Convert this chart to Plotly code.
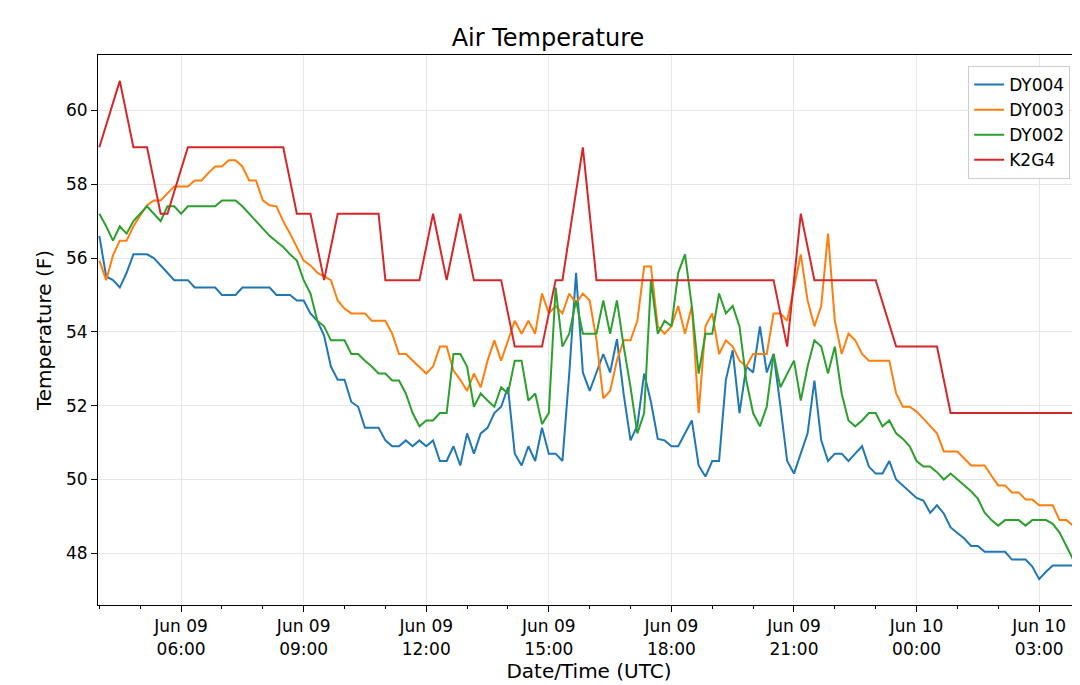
import pandas as pd
import plotly.graph_objects as go

# 10-minute observations, Jun 09 04:00 UTC -> Jun 10 04:00 UTC
times = pd.date_range("2019-06-09 04:00", "2019-06-10 04:00", freq="10min")

dy004 = [56.6, 55.5, 55.4, 55.2, 55.6, 56.1, 56.1, 56.1, 56.0, 55.8,
         55.6, 55.4, 55.4, 55.4, 55.2, 55.2, 55.2, 55.2, 55.0, 55.0,
         55.0, 55.2, 55.2, 55.2, 55.2, 55.2, 55.0, 55.0, 55.0, 54.85,
         54.85, 54.5, 54.3, 53.9, 53.06, 52.7, 52.7, 52.1, 51.97, 51.4,
         51.4, 51.4, 51.06, 50.9, 50.9, 51.06, 50.9, 51.06, 50.9, 51.06,
         50.5, 50.5, 50.9, 50.38, 51.25, 50.7, 51.25, 51.4, 51.8, 51.97,
         52.5, 50.7, 50.38, 50.9, 50.5, 51.4, 50.7, 50.7, 50.5, 52.87,
         55.6, 52.9, 52.4, 52.9, 53.4, 52.9, 53.8, 52.3, 51.06, 51.46,
         52.87, 52.1, 51.1, 51.06, 50.9, 50.9, 51.25, 51.6, 50.38, 50.08,
         50.5, 50.5, 52.7, 53.5, 51.8, 53.06, 52.9, 54.15, 52.9, 53.4,
         52.0, 50.5, 50.16, 50.7, 51.25, 52.68, 51.06, 50.5, 50.7, 50.7,
         50.5, 50.7, 50.9, 50.35, 50.16, 50.16, 50.5, 50.0, 49.83, 49.67,
         49.5, 49.43, 49.1, 49.3, 49.08, 48.7, 48.55, 48.4, 48.2, 48.2,
         48.04, 48.04, 48.04, 48.04, 47.83, 47.83, 47.83, 47.64, 47.3, 47.5,
         47.67, 47.67, 47.67, 47.67, 47.67]

dy003 = [55.93, 55.4, 56.07, 56.47, 56.47, 56.86, 57.15, 57.43, 57.56, 57.56,
         57.75, 57.94, 57.94, 57.94, 58.1, 58.1, 58.3, 58.48, 58.48, 58.65,
         58.65, 58.48, 58.1, 58.1, 57.56, 57.43, 57.4, 57.0, 56.66, 56.3,
         55.93, 55.8, 55.6, 55.5, 55.4, 54.85, 54.63, 54.5, 54.5, 54.5,
         54.3, 54.3, 54.3, 53.95, 53.4, 53.4, 53.22, 53.06, 52.87, 53.06,
         53.6, 53.6, 52.95, 52.7, 52.4, 52.87, 52.5, 53.22, 53.77, 53.22,
         53.77, 54.3, 53.95, 54.3, 53.95, 55.04, 54.5, 54.7, 54.5, 55.04,
         54.77, 55.04, 54.85, 53.77, 52.2, 52.4, 53.22, 53.77, 53.77, 54.3,
         55.77, 55.77, 54.15, 53.95, 54.15, 54.7, 53.95, 54.7, 51.8, 54.15,
         54.5, 53.4, 53.77, 53.6, 53.22, 53.06, 53.4, 53.4, 53.4, 54.5,
         54.5, 54.3, 55.2, 56.1, 54.85, 54.15, 54.7, 56.66, 54.3, 53.4,
         53.95, 53.77, 53.4, 53.22, 53.22, 53.22, 53.22, 52.33, 51.97, 51.97,
         51.84, 51.65, 51.46, 51.25, 50.76, 50.76, 50.76, 50.57, 50.38, 50.38,
         50.38, 50.1, 49.84, 49.84, 49.65, 49.65, 49.46, 49.46, 49.3, 49.3,
         49.3, 48.9, 48.9, 48.75, 48.37]

dy002 = [57.2, 56.86, 56.47, 56.86, 56.66, 57.0, 57.2, 57.4, 57.2, 57.0,
         57.4, 57.4, 57.2, 57.4, 57.4, 57.4, 57.4, 57.4, 57.56, 57.56,
         57.56, 57.4, 57.2, 57.0, 56.8, 56.6, 56.45, 56.3, 56.1, 55.93,
         55.4, 55.04, 54.3, 54.15, 53.77, 53.77, 53.77, 53.4, 53.4, 53.22,
         53.06, 52.87, 52.87, 52.68, 52.68, 52.33, 51.8, 51.44, 51.6, 51.6,
         51.8, 51.8, 53.4, 53.4, 53.06, 51.97, 52.33, 52.14, 51.97, 52.5,
         52.33, 53.22, 53.22, 52.14, 52.33, 51.5, 51.8, 55.2, 53.6, 53.95,
         54.85, 53.95, 53.95, 53.95, 54.85, 53.95, 54.85, 53.6, 52.5, 51.25,
         51.8, 55.4, 53.95, 54.3, 54.15, 55.6, 56.1, 54.7, 52.87, 53.95,
         53.95, 55.04, 54.5, 54.7, 54.15, 52.68, 51.8, 51.44, 51.97, 53.4,
         52.5, 52.86, 53.22, 52.14, 53.06, 53.77, 53.6, 52.87, 53.6, 52.33,
         51.6, 51.44, 51.6, 51.8, 51.8, 51.44, 51.6, 51.25, 51.1, 50.9,
         50.5, 50.35, 50.35, 50.2, 50.0, 50.16, 50.0, 49.85, 49.68, 49.48,
         49.1, 48.9, 48.75, 48.9, 48.9, 48.9, 48.75, 48.9, 48.9, 48.9,
         48.8, 48.56, 48.2, 47.83, 47.67]

# K2G4 reports are irregular
k2g4_times = ["2019-06-09 04:00", "2019-06-09 04:30", "2019-06-09 04:50", "2019-06-09 05:10",
              "2019-06-09 05:30", "2019-06-09 05:40", "2019-06-09 06:10", "2019-06-09 08:30",
              "2019-06-09 08:50", "2019-06-09 09:10", "2019-06-09 09:30", "2019-06-09 09:50",
              "2019-06-09 10:50", "2019-06-09 11:00", "2019-06-09 11:50", "2019-06-09 12:10",
              "2019-06-09 12:30", "2019-06-09 12:50", "2019-06-09 13:10", "2019-06-09 13:50",
              "2019-06-09 14:10", "2019-06-09 14:50", "2019-06-09 15:10", "2019-06-09 15:20",
              "2019-06-09 15:50", "2019-06-09 16:10", "2019-06-09 20:30", "2019-06-09 20:50",
              "2019-06-09 21:10", "2019-06-09 21:30", "2019-06-09 23:00", "2019-06-09 23:30",
              "2019-06-10 00:30", "2019-06-10 00:50", "2019-06-10 03:55"]
k2g4 = [59.0, 60.8, 59.0, 59.0, 57.2, 57.2, 59.0, 59.0,
        57.2, 57.2, 55.4, 57.2, 57.2, 55.4, 55.4, 57.2,
        55.4, 57.2, 55.4, 55.4, 53.6, 53.6, 55.4, 55.4,
        59.0, 55.4, 55.4, 53.6, 57.2, 55.4, 55.4, 53.6,
        53.6, 51.8, 51.8]

tick_times = ["2019-06-09 06:00", "2019-06-09 09:00", "2019-06-09 12:00", "2019-06-09 15:00",
              "2019-06-09 18:00", "2019-06-09 21:00", "2019-06-10 00:00", "2019-06-10 03:00"]
tick_labels = ["Jun 09<br>06:00", "Jun 09<br>09:00", "Jun 09<br>12:00", "Jun 09<br>15:00",
               "Jun 09<br>18:00", "Jun 09<br>21:00", "Jun 10<br>00:00", "Jun 10<br>03:00"]

fig = go.Figure()
for name, x, y, color in [("DY004", times, dy004, "#1f77b4"),
                          ("DY003", times, dy003, "#ff7f0e"),
                          ("DY002", times, dy002, "#2ca02c"),
                          ("K2G4", k2g4_times, k2g4, "#d62728")]:
    fig.add_trace(go.Scatter(x=x, y=y, mode="lines", name=name,
                             line=dict(color=color, width=2)))

fig.update_layout(
    width=1080, height=685,
    paper_bgcolor="white", plot_bgcolor="white",
    font=dict(family="DejaVu Sans", size=17, color="black"),
    title=dict(text="Air Temperature", x=0.5, xanchor="center",
               y=1 - 30 / 685, yanchor="middle", font=dict(size=24)),
    margin=dict(l=90, r=8, t=47, b=88, autoexpand=False),
    legend=dict(x=0.99, y=0.98, xanchor="right", yanchor="top",
                bgcolor="rgba(255,255,255,0.9)", bordercolor="#cccccc",
                borderwidth=1, font=dict(size=17)),
    xaxis=dict(title=dict(text="Date/Time (UTC)", font=dict(size=20), standoff=4),
               automargin=False,
               range=["2019-06-09 03:58", "2019-06-10 04:00"],
               tickvals=tick_times, ticktext=tick_labels,
               ticks="outside", ticklen=6, tickcolor="black",
               minor=dict(dtick=3600000, ticks="outside", ticklen=3,
                          tickcolor="black", showgrid=False),
               showgrid=True, gridcolor="#e6e6e6",
               showline=True, linecolor="black", mirror=True,
               zeroline=False),
    yaxis=dict(title=dict(text="Temperature (F)", font=dict(size=20), standoff=8),
               automargin=False,
               range=[46.6, 61.5], dtick=2, tick0=48,
               ticks="outside", ticklen=6, tickcolor="black",
               showgrid=True, gridcolor="#e6e6e6",
               showline=True, linecolor="black", mirror=True,
               zeroline=False),
)

fig.write_html("out.html")
